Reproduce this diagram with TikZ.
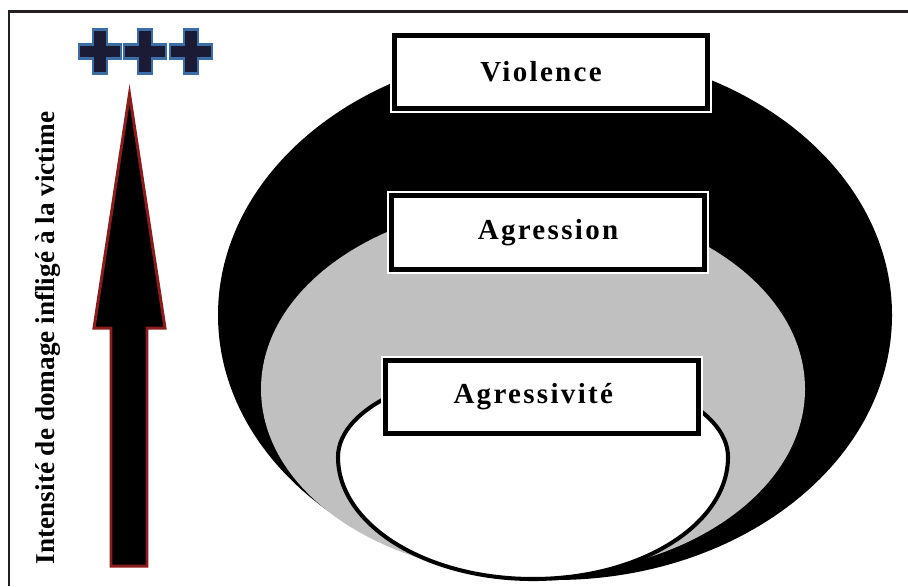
\documentclass[tikz,border=0pt]{standalone}
\usepackage{fontspec}
\setmainfont{Liberation Serif}
\newfontfamily\tagfont[LetterSpace=8]{Liberation Serif}
\usetikzlibrary{positioning}
\definecolor{arrowred}{HTML}{8B1C1C}
\definecolor{crossnavy}{HTML}{1C1B35}
\definecolor{crossblue}{HTML}{3C6EA5}
\definecolor{ringgray}{HTML}{C0C0C0}
\definecolor{framegray}{HTML}{231F20}

\begin{document}
\begin{tikzpicture}[
      x=0.02cm, y=-0.02cm,
      frame/.style={draw=framegray, line width=1.7pt},
      tag/.style={rectangle, draw=black, fill=white, line width=2.8pt,
                  preaction={draw=white, line width=5pt},
                  minimum width=6.27cm, minimum height=1.47cm, inner sep=0pt,
                  font=\tagfont\bfseries\fontsize{16.5pt}{18pt}\selectfont},
      crossmark/.pic={
        \draw[draw=crossblue, fill=crossnavy, line width=1.7pt, line join=miter]
          (-7,-22) -- (7,-22) -- (7,-7) -- (21,-7) --
          (21,7) -- (7,7) -- (7,22) -- (-7,22) --
          (-7,7) -- (-21,7) -- (-21,-7) -- (-7,-7) -- cycle;
      }
    ]
      \useasboundingbox (0,0) rectangle (908,586);

      % frame
      \draw[frame] (9,586) -- (9,11) -- (908,11);

      % rings
      \fill[black] (555,315) ellipse [x radius=337, y radius=265];
      \fill[ringgray] (533,389) ellipse [x radius=272, y radius=186];
      \draw[fill=white, line width=2.3pt] (338,457)
        arc [start angle=180, end angle=360, x radius=195, y radius=90]
        arc [start angle=0, end angle=180, x radius=195, y radius=122] -- cycle;

      % labels of the rings
      \node[tag] (violence) at (551,72) {\hspace*{-0.4cm}Violence};
      \node[tag, below=1.64cm of violence, xshift=-0.06cm] (agression) {Agression};
      \node[tag, below=1.72cm of agression, xshift=-0.12cm] (agressivite) {\hspace*{-0.35cm}Agressivité};

      % intensity arrow
      \draw[draw=arrowred, fill=black, line width=1.7pt, line join=miter]
        (111,566) -- (111,328) -- (94,328) -- (129.5,94) --
        (165,328) -- (147,328) -- (147,566) -- cycle;
      \node[rotate=90, font=\bfseries\fontsize{15.5pt}{17pt}\selectfont]
        (intensity) at (48,338) {Intensité de domage infligé à la victime};

      % +++
      \pic at (100,51) {crossmark};
      \pic at (145,51) {crossmark};
      \pic at (191,51) {crossmark};
    \end{tikzpicture}
\end{document}
